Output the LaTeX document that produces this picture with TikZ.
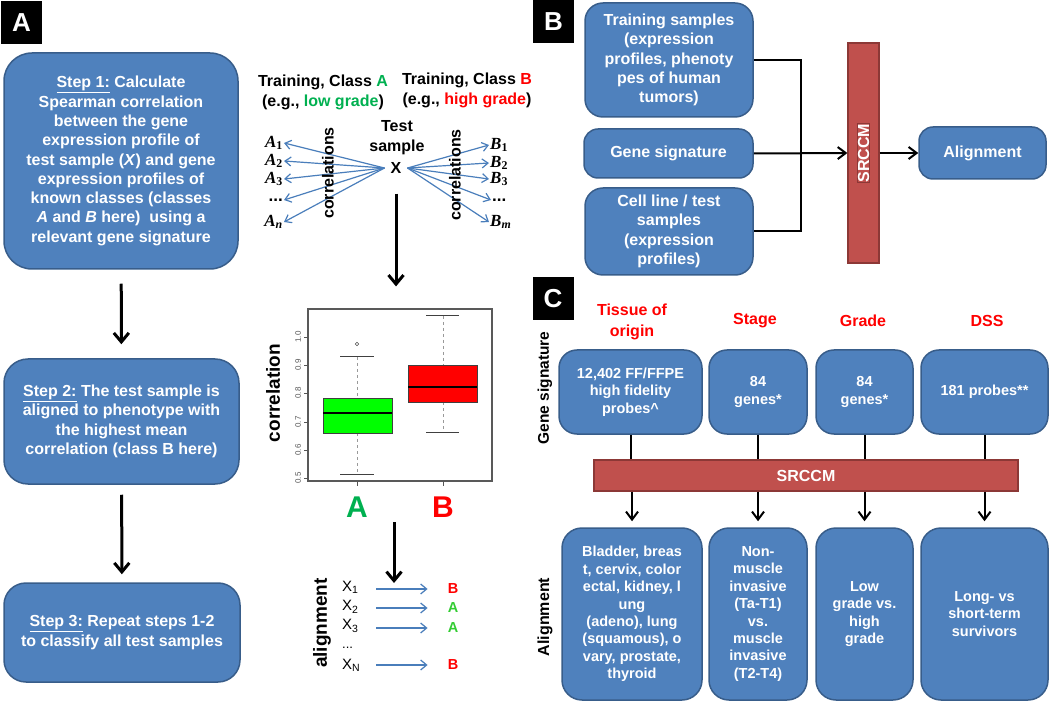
\documentclass[tikz,border=0pt]{standalone}
\usepackage{fontspec}
\setmainfont{Liberation Sans}
\newfontfamily\serifbi{Liberation Serif}
\usetikzlibrary{arrows.meta}
\definecolor{BoxBlue}{HTML}{4F81BD}
\definecolor{BoxEdge}{HTML}{385D8A}
\definecolor{BarRed}{HTML}{C0504D}
\definecolor{BarEdge}{HTML}{8C3836}
\definecolor{ClassGreen}{HTML}{00B050}
\definecolor{AlnGreen}{HTML}{33CC33}
\definecolor{ClassRed}{HTML}{FF0000}
\definecolor{CorrBlue}{HTML}{4A7EBB}
\definecolor{PlotGreen}{HTML}{00FF00}
\definecolor{PlotRed}{HTML}{FF0000}
\definecolor{AxisGray}{HTML}{555555}
\newcommand{\fsz}[2]{\fontsize{#1}{#2}\selectfont}
\newcommand{\cls}[2]{{\serifbi\bfseries\itshape #1}\textsubscript{\serifbi\bfseries #2}}
\tikzset{
  stepbox/.style={draw=BoxEdge, fill=BoxBlue, line width=1.5pt, rounded corners=28pt, text=white, align=center, font=\bfseries\fsz{16}{19.3}},
  flowbox/.style={draw=BoxEdge, fill=BoxBlue, line width=1.5pt, rounded corners=18pt, text=white, align=center, font=\bfseries\fsz{16}{19.3}},
  sigbox/.style={flowbox, font=\bfseries\fsz{14.5}{17.4}},
  srccmbar/.style={draw=BarEdge, fill=BarRed, line width=1.2pt, text=white, font=\bfseries\fsz{16}{19}},
  paneltag/.style={fill=black, text=white, font=\bfseries\fsz{26}{26}, minimum width=41pt, minimum height=43pt, inner sep=0pt},
  blacklbl/.style={font=\bfseries\fsz{16}{20}, align=center, inner sep=1pt},
  headlbl/.style={font=\bfseries\fsz{16}{21}, text=ClassRed, align=center},
  mathlbl/.style={font=\fsz{17}{20}, inner sep=1pt},
  sidelbl/.style={rotate=90, font=\bfseries\fsz{16}{19}},
  ticklbl/.style={rotate=90, font=\fsz{8}{9}, text=AxisGray, inner sep=0pt},
  xlbl/.style={anchor=west, inner sep=0pt, text width=16pt, align=left, font=\fsz{15}{16}},
  reslbl/.style={inner sep=0pt, font=\bfseries\fsz{14.5}{16}},
  bigarrow/.style={-{Straight Barb[length=9pt,width=15pt]}, line width=3pt},
  flowarrow/.style={-{Straight Barb[length=8pt,width=12pt]}, line width=2pt},
  flowline/.style={line width=2pt},
  corrarrow/.style={-{Straight Barb[length=6pt,width=9pt]}, line width=1.2pt, draw=CorrBlue},
  alnarrow/.style={-{Straight Barb[length=6pt,width=10pt]}, line width=1.2pt, draw=CorrBlue},
  whisker/.style={draw=gray!80, dashed, line width=0.8pt},
  boxedge/.style={draw=gray!50!black, line width=1pt},
  plotframe/.style={draw=gray!70!black, line width=1.2pt, minimum width=184pt, minimum height=172pt, inner sep=0pt}
}
\begin{document}
\begin{tikzpicture}[x=1pt, y=-1pt]
\useasboundingbox (0,0) rectangle (1050,703);
% panel A: steps
\node[paneltag] (tagA) at (21.5,23) {A};
\node[stepbox, minimum width=234pt, minimum height=216pt] (step1) at (121,161)
  {\underline{Step 1:} Calculate\\Spearman correlation\\between the gene\\expression profile of\\test sample (\textit{X}) and gene\\expression profiles of\\known classes (classes\\\textit{A} and \textit{B} here)\ \ using a\\relevant gene signature};
\node[stepbox, rounded corners=24pt, minimum width=235pt, minimum height=125pt] (step2) at (121.5,421.5)
  {\underline{Step 2:} The test sample is\\aligned to phenotype with\\the highest mean\\correlation (class B here)};
\node[stepbox, rounded corners=22pt, minimum width=236pt, minimum height=99pt] (step3) at (122,632.5)
  {\underline{Step 3:} Repeat steps 1-2\\to classify all test samples};
\draw[bigarrow, shorten <=14pt, shorten >=14pt] (step1) -- (step2);
\draw[bigarrow, shorten <=10pt, shorten >=8pt] (step2) -- (step3);
% panel A: correlations
\node[blacklbl] (trainA) at (323,92) {Training, Class \textcolor{ClassGreen}{A}\\(e.g., \textcolor{ClassGreen}{low grade})};
\node[blacklbl] (trainB) at (467,90) {Training, Class \textcolor{ClassRed}{B}\\(e.g., \textcolor{ClassRed}{high grade})};
\node[blacklbl] (testlbl) at (397,138) {Test\\sample};
\node[blacklbl, inner sep=6pt] (xs) at (396,168) {X};
\node[mathlbl, anchor=east] (a1) at (284,143) {\cls{A}{1}};
\node[mathlbl, anchor=east] (a2) at (284,161) {\cls{A}{2}};
\node[mathlbl, anchor=east] (a3) at (284,179) {\cls{A}{3}};
\node[mathlbl, anchor=east] (adots) at (284,200) {\textbf{...}};
\node[mathlbl, anchor=east] (an) at (284,222) {\cls{A}{\itshape n}};
\node[mathlbl, anchor=west] (b1) at (489,145) {\cls{B}{1}};
\node[mathlbl, anchor=west] (b2) at (489,163) {\cls{B}{2}};
\node[mathlbl, anchor=west] (b3) at (489,179) {\cls{B}{3}};
\node[mathlbl, anchor=west] (bdots) at (491,200) {\textbf{...}};
\node[mathlbl, anchor=west] (bm) at (489,222) {\cls{B}{\itshape m}};
\foreach \tgt in {a1,a2,a3,adots,an}
  \draw[corrarrow] (xs.west) -- (\tgt.east);
\foreach \tgt in {b1,b2,b3,bdots,bm}
  \draw[corrarrow] (xs.east) -- (\tgt.west);
\node[sidelbl] (corrA) at (328,173) {correlations};
\node[sidelbl] (corrB) at (455,175) {correlations};
% panel A: box plot
\node[plotframe] (plotbox) at (400,395) {};
\draw[bigarrow, shorten <=14pt, shorten >=22pt] (xs.south) -- (plotbox.north -| xs.south);
\draw[line width=0.8pt, AxisGray] (308,478) -- (304,478) (308,450) -- (304,450) (308,422) -- (304,422)
  (308,393) -- (304,393) (308,365) -- (304,365) (308,337) -- (304,337)
  (357,481) -- (357,486) (443,481) -- (443,486);
\node[ticklbl] at (298,478) {0.5};
\node[ticklbl] at (298,450) {0.6};
\node[ticklbl] at (298,422) {0.7};
\node[ticklbl] at (298,393) {0.8};
\node[ticklbl] at (298,365) {0.9};
\node[ticklbl] at (298,337) {1.0};
% class A box
\draw[whisker] (357,357) -- (357,398) (357,433) -- (357,474);
\draw[boxedge] (340,357) -- (374,357) (340,474) -- (374,474);
\draw[boxedge, fill=PlotGreen] (323,398) rectangle (392,433);
\draw[line width=2.5pt] (323,413) -- (392,413);
\draw[gray!60!black, line width=0.6pt] (357,344) circle (1.8pt);
% class B box
\draw[whisker] (443,316) -- (443,366) (443,402) -- (443,432);
\draw[boxedge] (426,316) -- (459,316) (426,432) -- (459,432);
\draw[boxedge, fill=PlotRed] (408,366) rectangle (477,402);
\draw[line width=2.5pt] (408,387) -- (477,387);
\node[sidelbl, font=\bfseries\fsz{19}{20}] (corrlbl) at (273,393) {correlation};
\node[font=\bfseries\fsz{30}{30}, text=ClassGreen] (bigA) at (357,507) {A};
\node[font=\bfseries\fsz{30}{30}, text=ClassRed] (bigB) at (443,507) {B};
% panel A: alignment
\coordinate (alnstart) at (394,522);
\coordinate (alnend) at (394,583);
\draw[bigarrow] (alnstart) -- (alnend);
\node[sidelbl, font=\bfseries\fsz{19}{20}] (alnlbl) at (322,623) {alignment};
\node[xlbl] (x1) at (342,587) {X\textsubscript{1}};
\node[xlbl] (x2) at (342,607) {X\textsubscript{2}};
\node[xlbl] (x3) at (342,626) {X\textsubscript{3}};
\node[xlbl, font=\fsz{13}{14}] (xdots) at (342,648) {...};
\node[xlbl] (xn) at (342,665) {X\textsubscript{N}};
\node[reslbl, text=ClassRed] (r1) at (453,589) {B};
\node[reslbl, text=AlnGreen] (r2) at (453,608) {A};
\node[reslbl, text=AlnGreen] (r3) at (453,628) {A};
\node[reslbl, text=ClassRed] (rn) at (453,665) {B};
\draw[alnarrow, shorten <=18pt, shorten >=20pt] (x1.east |- r1.west) -- (r1.west);
\draw[alnarrow, shorten <=18pt, shorten >=20pt] (x2.east |- r2.west) -- (r2.west);
\draw[alnarrow, shorten <=18pt, shorten >=20pt] (x3.east |- r3.west) -- (r3.west);
\draw[alnarrow, shorten <=18pt, shorten >=20pt] (xn.east |- rn.west) -- (rn.west);
% panel B
\node[paneltag] (tagB) at (553.5,22) {B};
\node[flowbox, minimum width=168pt, minimum height=114pt] (train) at (669,60)
  {Training samples\\(expression\\profiles, phenoty\\pes of human\\tumors)};
\node[flowbox, rounded corners=14pt, minimum width=169pt, minimum height=49pt] (genesig) at (668.5,153.5) {Gene signature};
\node[flowbox, minimum width=168pt, minimum height=87pt] (cellline) at (669,231.5)
  {Cell line / test\\samples\\(expression\\profiles)};
\node[srccmbar, minimum width=31pt, minimum height=220pt, inner sep=0pt] (srccmB) at (863.5,153) {};
\node[srccmbar, rotate=90, inner sep=0pt] at (srccmB) {SRCCM};
\node[flowbox, rounded corners=14pt, minimum width=127pt, minimum height=52pt] (alignB) at (982.5,153) {Alignment};
\coordinate (busB) at (801,153.5);
\draw[flowline] (train.east) -| (busB) |- (cellline.east);
\draw[flowarrow] (genesig.east) -- (srccmB.west);
\draw[flowarrow] (srccmB.east) -- (alignB.west);
% panel C
\node[paneltag] (tagC) at (553,299) {C};
\node[sidelbl, font=\bfseries\fsz{15.5}{18}] (siglbl) at (545,388) {Gene signature};
\node[sidelbl] (alnC) at (545,617) {Alignment};
\node[headlbl] (hTissue) at (632,322) {Tissue of\\origin};
\node[headlbl] (hStage) at (755,321) {Stage};
\node[headlbl] (hGrade) at (863,321) {Grade};
\node[headlbl] (hDSS) at (987,321) {DSS};
\node[sigbox, minimum width=143pt, minimum height=84pt] (c1) at (630.5,392) {12,402 FF/FFPE\\high fidelity\\probes\textasciicircum};
\node[sigbox, minimum width=98pt, minimum height=84pt] (c2) at (758,392) {84\\genes*};
\node[sigbox, minimum width=97pt, minimum height=84pt] (c3) at (864.5,392) {84\\genes*};
\node[sigbox, minimum width=127pt, minimum height=84pt] (c4) at (984.5,392) {181 probes**};
\node[srccmbar, minimum width=424pt, minimum height=31pt] (srccmC) at (806,475.5) {SRCCM};
\node[sigbox, rounded corners=20pt, minimum width=140pt, minimum height=172pt] (d1) at (632,614)
  {Bladder, breas\\t, cervix, color\\ectal, kidney, l\\ung\\(adeno), lung\\(squamous), o\\vary, prostate,\\thyroid};
\node[sigbox, rounded corners=20pt, minimum width=98pt, minimum height=172pt] (d2) at (758,614)
  {Non-\\muscle\\invasive\\(Ta-T1)\\vs.\\muscle\\invasive\\(T2-T4)};
\node[sigbox, rounded corners=20pt, minimum width=97pt, minimum height=172pt] (d3) at (864.5,614)
  {Low\\grade vs.\\high\\grade};
\node[sigbox, rounded corners=20pt, minimum width=127pt, minimum height=172pt] (d4) at (984.5,614)
  {Long- vs\\short-term\\survivors};
\foreach \top/\bot in {c1/d1,c2/d2,c3/d3,c4/d4} {
  \draw[flowline] (\top.south) -- (\top.south |- srccmC.north);
  \draw[flowarrow, shorten >=6pt] (srccmC.south -| \bot.north) -- (\bot.north);
}
\end{tikzpicture}
\end{document}
